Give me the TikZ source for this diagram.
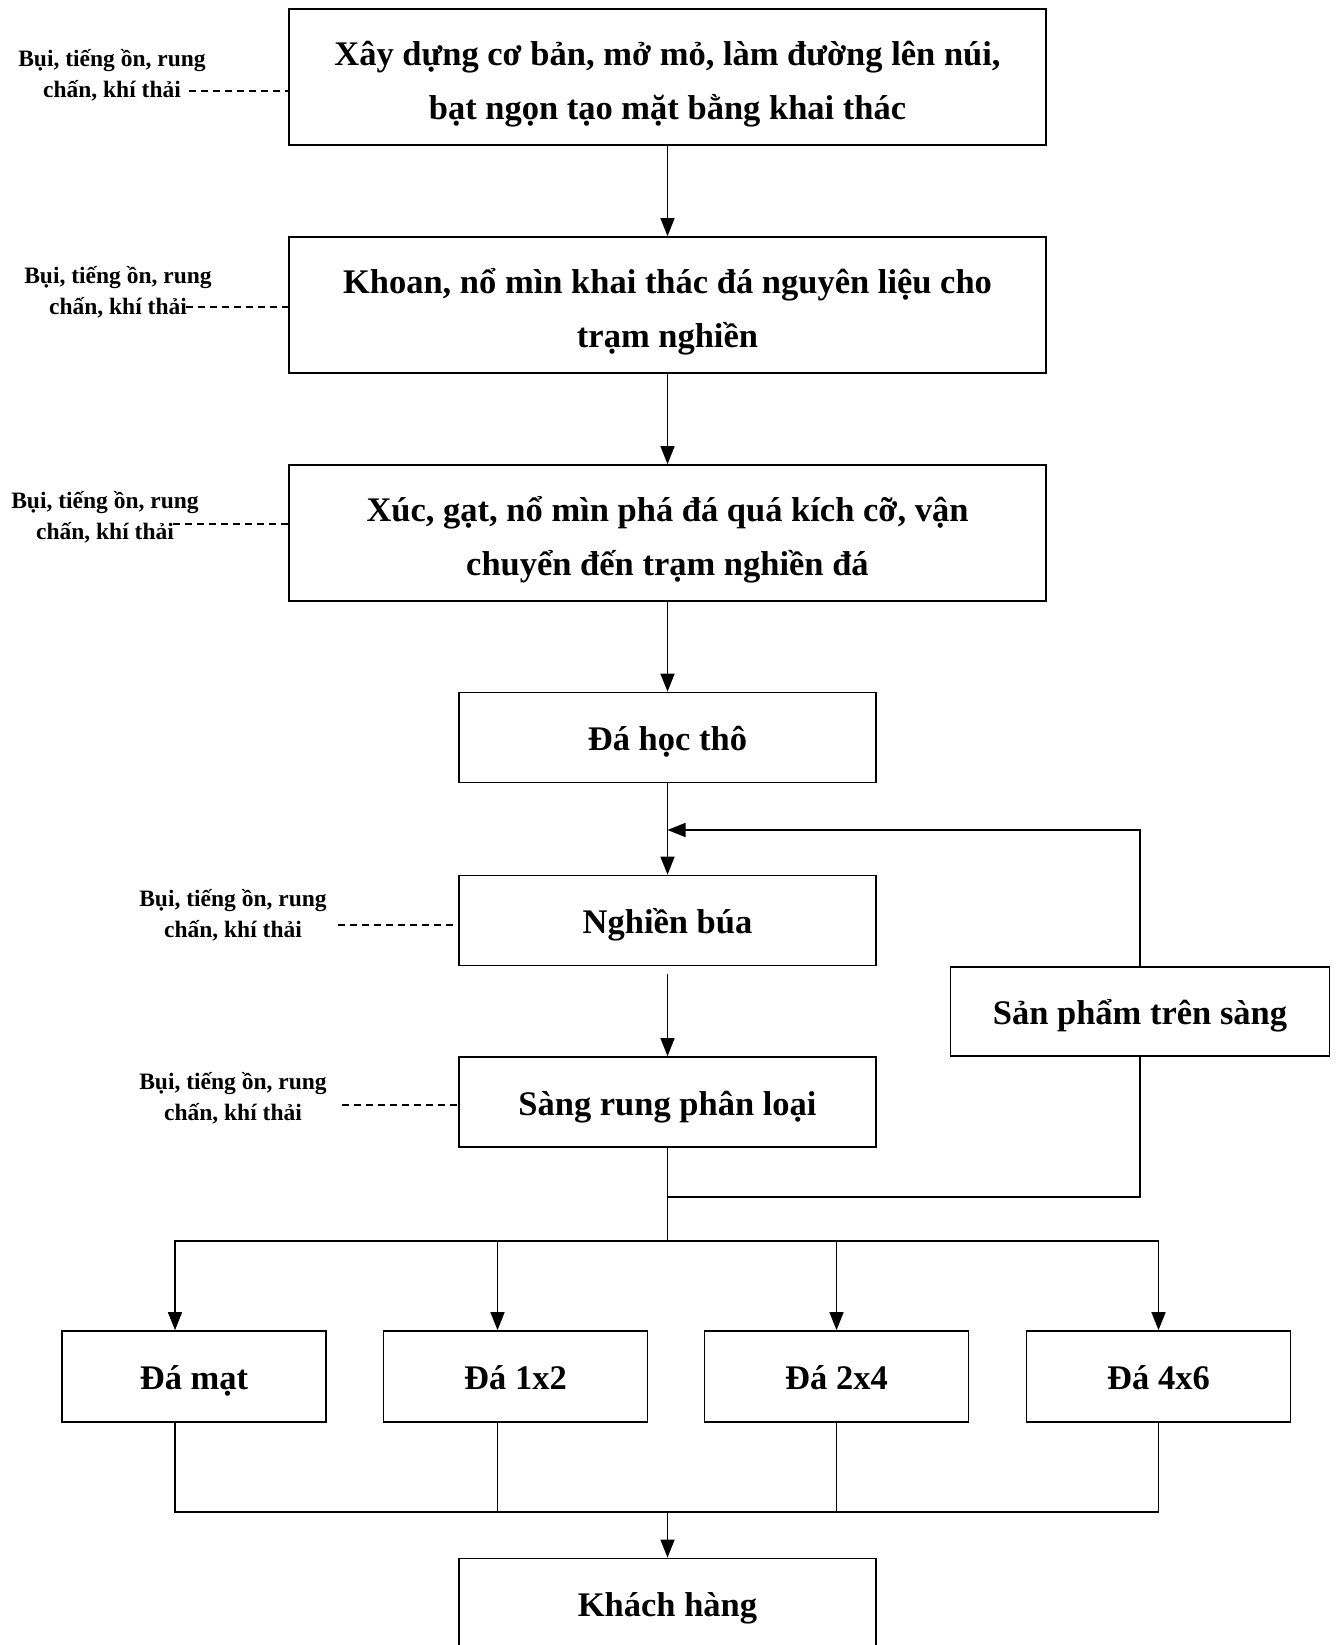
\documentclass[tikz,border=0pt]{standalone}
\usepackage{fontspec}
\setmainfont{Liberation Serif}
\usepackage{tikz}
\usetikzlibrary{arrows.meta}
\newcommand{\tallstrut}{\rule{0pt}{39pt}}
\tikzstyle{bigbox} = [rectangle, minimum width=757pt, minimum height=136pt, align=center, draw=black, line width=1.7pt, font=\fontsize{34.5}{53.5}\selectfont\bfseries]
\tikzstyle{midbox} = [rectangle, minimum width=417pt, minimum height=90pt, align=center, draw=black, line width=1.7pt, font=\fontsize{34.5}{55}\selectfont\bfseries, execute at begin node={\rule[-0.3em]{0pt}{1.37em}}]
\tikzstyle{prodbox} = [midbox, minimum width=264pt, minimum height=91pt]
\tikzstyle{note} = [align=center, inner sep=0pt, font=\fontsize{23.5}{31}\selectfont\bfseries]
\tikzstyle{arrow} = [line width=1.4pt,-{Triangle[length=18pt,width=14pt]}]
\tikzstyle{line} = [line width=1.4pt]
\tikzstyle{dashline} = [line width=1.2pt, dash pattern=on 7pt off 5pt]

\begin{document}
\begin{tikzpicture}[x=1pt, y=1pt, node distance=228pt]
                \useasboundingbox (0,0) rectangle (1335,-1645);
                \node (build) [bigbox] at (667.5,-77) {\tallstrut Xây dựng cơ bản, mở mỏ, làm đường lên núi,\\bạt ngọn tạo mặt bằng khai thác};
                \node (drill) [bigbox, below of=build] {\tallstrut Khoan, nổ mìn khai thác đá nguyên liệu cho\\trạm nghiền};
                \node (haul) [bigbox, below of=drill] {\tallstrut Xúc, gạt, nổ mìn phá đá quá kích cỡ, vận\\chuyển đến trạm nghiền đá};
                \node (raw) [midbox, below of=haul, yshift=23.5pt] {Đá học thô};
                \node (crush) [midbox, below of=raw, yshift=45pt] {Nghiền búa};
                \node (screen) [midbox, below of=crush, yshift=46.5pt] {Sàng rung phân loại};
                \node (over) [midbox, minimum width=379pt, minimum height=89pt, right of=crush, xshift=244.5pt, yshift=-91pt] {Sản phẩm trên sàng};
                \node (fine) [prodbox, below of=screen, xshift=-473.5pt, yshift=-46.5pt] {Đá mạt};
                \node (s12) [prodbox, below of=screen, xshift=-152pt, yshift=-46.5pt] {Đá 1x2};
                \node (s24) [prodbox, below of=screen, xshift=169pt, yshift=-46.5pt] {Đá 2x4};
                \node (s46) [prodbox, below of=screen, xshift=491pt, yshift=-46.5pt] {Đá 4x6};
                \node (client) [midbox, below of=screen, yshift=-273.5pt] {Khách hàng};
                % emissions
                \node (n1) [note] at (112,-75) {Bụi, tiếng ồn, rung\\chấn, khí thải};
                \node (n2) [note] at (118,-292) {Bụi, tiếng ồn, rung\\chấn, khí thải};
                \node (n3) [note] at (105,-517) {Bụi, tiếng ồn, rung\\chấn, khí thải};
                \node (n4) [note] at (233,-915) {Bụi, tiếng ồn, rung\\chấn, khí thải};
                \node (n5) [note] at (233,-1098) {Bụi, tiếng ồn, rung\\chấn, khí thải};
                \coordinate (d1) at (189,-91);
                \coordinate (d2) at (186,-307);
                \coordinate (d3) at (173,-524);
                \coordinate (d4) at (338,-925);
                \coordinate (d5) at (342,-1105);
                \draw [dashline] (d1) -- (d1 -| build.west);
                \draw [dashline] (d2) -- (d2 -| drill.west);
                \draw [dashline] (d3) -- (d3 -| haul.west);
                \draw [dashline] (d4) -- (d4 -| crush.west);
                \draw [dashline] (d5) -- (d5 -| screen.west);
                % main flow
                \coordinate (back) at (667.5,-830);
                \coordinate (split) at (667.5,-1197);
                \coordinate (fork) at (667.5,-1241);
                \coordinate (join) at (667.5,-1512);
                \draw [arrow] (build) -- (drill);
                \draw [arrow] (drill) -- (haul);
                \draw [arrow] (haul) -- (raw);
                \draw [arrow] (raw) -- (crush);
                \draw [arrow, shorten <=8pt] (crush) -- (screen);
                \draw [arrow] (over.north) |- (back);
                \draw [line] (screen.south) -- (fork);
                \draw [line] (split) -| (over.south);
                \draw [arrow] (fork) -| ([xshift=-19pt]fine.north);
                \draw [arrow] (fork) -| ([xshift=-18pt]s12.north);
                \draw [arrow] (fork) -| (s24.north);
                \draw [arrow] (fork) -| (s46.north);
                \draw [line] ([xshift=-19pt]fine.south) |- (join);
                \draw [line] ([xshift=-18pt]s12.south) |- (join);
                \draw [line] (s24.south) |- (join);
                \draw [line] (s46.south) |- (join);
                \draw [arrow] (join) -- (client);
            \end{tikzpicture}
\end{document}
